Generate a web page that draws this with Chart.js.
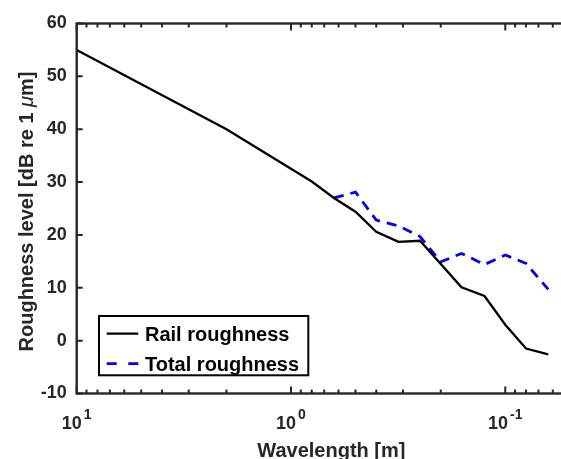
<!DOCTYPE html>
<html lang="en">
<head>
  <meta charset="UTF-8" />
  <title>Roughness level</title>
  <script src="https://cdn.jsdelivr.net/npm/chart.js"></script>
  <style>
    html, body {
      margin: 0;
      padding: 0;
      background: #ffffff;
      overflow: hidden;
    }
    #roughChart {
      display: block;
    }
  </style>
</head>
<body>
  <canvas id="roughChart" width="600" height="459"></canvas>

  <script>
// wavelengths in m, levels in dB re 1 um
const railWavelength = [10, 2, 0.8, 0.63, 0.5, 0.4, 0.315, 0.25, 0.16, 0.125, 0.1, 0.08, 0.063];
const railLevel      = [55, 40, 30.1, 27, 24.4, 20.6, 18.7, 18.9, 10.1, 8.45, 3, -1.5, -2.6];

const totalWavelength = [0.63, 0.5, 0.4, 0.315, 0.25, 0.2, 0.16, 0.125, 0.1, 0.08, 0.063];
const totalLevel      = [27, 28.1, 22.8, 21.7, 19.7, 14.9, 16.5, 14.4, 16.2, 14.6, 9.7];

const yTicks = [-10, 0, 10, 20, 30, 40, 50, 60];
const xDecades = [1, 0, -1];
const xMin = 0.042, xMax = 10;

const FONT = "'Liberation Sans', Arial, sans-serif";
const AXIS_COLOR = '#262626';

const matlabAxes = {
  id: 'matlabAxes',
  afterDatasetsDraw(chart) {
    const { ctx, chartArea: a, scales: { x, y } } = chart;
    ctx.save();

    // tick marks (inward, top and bottom / left and right)
    ctx.strokeStyle = AXIS_COLOR;
    ctx.lineWidth = 2;
    ctx.beginPath();
    for (let e = 1; e >= -2; e--) {
      for (let k = 1; k <= 9; k++) {
        const v = k * Math.pow(10, e);
        if (v < xMin || v > xMax) continue;
        const px = x.getPixelForValue(v);
        const len = k === 1 ? 7 : 4;
        ctx.moveTo(px, a.bottom); ctx.lineTo(px, a.bottom - len);
        ctx.moveTo(px, a.top); ctx.lineTo(px, a.top + len);
      }
    }
    yTicks.forEach(v => {
      const py = y.getPixelForValue(v);
      ctx.moveTo(a.left, py); ctx.lineTo(a.left + 6, py);
      ctx.moveTo(a.right, py); ctx.lineTo(a.right - 6, py);
    });
    ctx.stroke();
    ctx.lineWidth = 2.4;
    ctx.strokeRect(a.left, a.top, a.right - a.left, a.bottom - a.top);

    // x tick labels 10^n
    ctx.fillStyle = AXIS_COLOR;
    ctx.textBaseline = 'alphabetic';
    ctx.textAlign = 'left';
    xDecades.forEach(e => {
      const px = x.getPixelForValue(Math.pow(10, e));
      const base = '10', sup = String(e);
      ctx.font = 'bold 18px ' + FONT;
      const w1 = ctx.measureText(base).width;
      ctx.font = 'bold 14px ' + FONT;
      const w2 = ctx.measureText(sup).width;
      const x0 = px - (w1 + 2 + w2) / 2;
      ctx.font = 'bold 18px ' + FONT;
      ctx.fillText(base, x0, 429);
      ctx.font = 'bold 14px ' + FONT;
      ctx.fillText(sup, x0 + w1 + 2, 418.5);
    });

    // x axis title
    ctx.font = 'bold 20px ' + FONT;
    ctx.textAlign = 'center';
    ctx.fillText('Wavelength [m]', (a.left + a.right) / 2, 457.3);

    // y axis title, rotated, with italic mu
    const parts = [
      ['Roughness level [dB re 1 ', 'bold 20px ' + FONT],
      ['\u03BC', 'italic 20px ' + FONT],
      ['m]', 'bold 20px ' + FONT]
    ];
    let total = 0;
    parts.forEach(p => { ctx.font = p[1]; total += ctx.measureText(p[0]).width; });
    ctx.translate(32.7, (a.top + a.bottom) / 2 + 3);
    ctx.rotate(-Math.PI / 2);
    ctx.textAlign = 'left';
    let cx = -total / 2;
    parts.forEach(p => { ctx.font = p[1]; ctx.fillText(p[0], cx, 0); cx += ctx.measureText(p[0]).width; });
    ctx.setTransform(1, 0, 0, 1, 0, 0);

    // legend box
    const lx = 99, ly = 316, lw = 209.3, lh = 59.3;
    ctx.fillStyle = '#ffffff';
    ctx.fillRect(lx, ly, lw, lh);
    ctx.strokeStyle = '#000000';
    ctx.lineWidth = 2;
    ctx.strokeRect(lx, ly, lw, lh);
    chart.data.datasets.forEach((ds, i) => {
      const rowY = 333.7 + i * 30;
      ctx.strokeStyle = ds.borderColor;
      ctx.lineWidth = ds.borderWidth;
      ctx.setLineDash(ds.borderDash ? [10, 11.6] : []);
      ctx.beginPath();
      ctx.moveTo(106.7, rowY);
      ctx.lineTo(138.3, rowY);
      ctx.stroke();
      ctx.setLineDash([]);
      ctx.fillStyle = '#000000';
      ctx.font = 'bold 20px ' + FONT;
      ctx.textAlign = 'left';
      ctx.fillText(ds.label, 145, rowY + 7);
    });

    ctx.restore();
  }
};

const ctx = document.getElementById('roughChart').getContext('2d');
const roughChart = new Chart(ctx, {
  type: 'line',
  data: {
    datasets: [
      {
        label: 'Rail roughness',
        data: railWavelength.map((w, i) => ({ x: w, y: railLevel[i] })),
        borderColor: '#000000',
        borderWidth: 2.3,
        pointRadius: 0,
        tension: 0,
        fill: false
      },
      {
        label: 'Total roughness',
        data: totalWavelength.map((w, i) => ({ x: w, y: totalLevel[i] })),
        borderColor: '#0000ff',
        borderWidth: 2.8,
        borderDash: [10, 7],
        pointRadius: 0,
        tension: 0,
        fill: false
      }
    ]
  },
  options: {
    responsive: false,
    animation: false,
    layout: { padding: { left: 0, right: 14, top: 23.5, bottom: 0 } },
    plugins: {
      legend: { display: false },
      tooltip: { enabled: false }
    },
    scales: {
      x: {
        type: 'logarithmic',
        reverse: true,
        min: xMin,
        max: xMax,
        ticks: { display: false },
        grid: { display: false, drawTicks: false },
        border: { display: false },
        afterFit: scale => { scale.height = 65.5; }
      },
      y: {
        type: 'linear',
        min: -10,
        max: 60,
        afterBuildTicks: scale => { scale.ticks = yTicks.map(v => ({ value: v })); },
        ticks: {
          color: AXIS_COLOR,
          padding: 10,
          font: { family: FONT, size: 18, weight: 'bold' }
        },
        grid: { display: false, drawTicks: false },
        border: { display: false },
        afterFit: scale => { scale.width = 76.7; }
      }
    }
  },
  plugins: [matlabAxes]
});
  </script>
</body>
</html>
